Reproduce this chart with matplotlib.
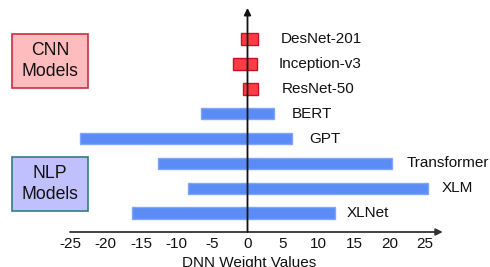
import matplotlib.pyplot as plt
from matplotlib.patches import Rectangle

# models listed top to bottom
models = ["DesNet-201", "Inception-v3", "ResNet-50", "BERT", "GPT",
          "Transformer", "XLM", "XLNet"]
w_min = [-0.9, -2.0, -0.7, -6.5, -23.6, -12.6, -8.4, -16.3]
w_max = [1.45, 1.35, 1.45, 3.7, 6.3, 20.4, 25.4, 12.3]
is_cnn = [True, True, True, False, False, False, False, False]
xticks = [-25, -20, -15, -10, -5, 0, 5, 10, 15, 20, 25]

plt.rcParams['font.family'] = ['Liberation Sans', 'DejaVu Sans']

fig = plt.figure(figsize=(4.9, 2.67), dpi=100)
ax = fig.add_axes([70 / 490, 35 / 267, 372.75 / 490, 224 / 267])
ax.set_xlim(-25, 27.5)
ax.set_ylim(7.76, -1.25)

pos = list(range(len(models)))
for i in pos:
    if is_cnn[i]:
        fc, ec = "#ff3c44", "#c8102a"
    else:
        fc, ec = "#5b8cf6", "#7fa6fb"
    ax.barh(i, w_max[i] - w_min[i], left=w_min[i], height=0.46,
            color=fc, edgecolor=ec, linewidth=1, zorder=2)

# label gap after bar end, in pixels
pads = [23, 22, 24, 18, 17, 14, 14, 12]
for i in pos:
    ax.annotate(models[i], (w_max[i], i), xytext=(pads[i] * 0.72, 0),
                textcoords="offset points", va="center", ha="left",
                fontsize=11, color="#111111")

for s in ax.spines.values():
    s.set_visible(False)
ax.set_yticks([])
ax.set_xticks(xticks)
ax.set_xticklabels([str(t) for t in xticks], fontsize=11, color="#111111")
ax.tick_params(axis="x", length=0, pad=3.5)

# axes drawn as arrows
ax.annotate("", xy=(1.0, 0.0), xytext=(0.0, 0.0), xycoords="axes fraction",
            arrowprops=dict(arrowstyle="-|>", color="#333333", lw=1.3,
                            mutation_scale=10, shrinkA=0, shrinkB=0))
ax.annotate("", xy=(0, -1.25), xytext=(0, 7.76),
            arrowprops=dict(arrowstyle="-|>", color="#111111", lw=1.3,
                            mutation_scale=10, shrinkA=0, shrinkB=0),
            zorder=3)

ax.set_xlabel("DNN Weight Values", fontsize=11, color="#111111")
ax.xaxis.set_label_coords(0.48, -0.107)
ax.xaxis.label.set_va("top")

# group boxes
for (y0, txt, fc, ec) in [(34, "CNN\nModels", "#ffbcbe", "#c8303f"),
                          (157, "NLP\nModels", "#c0c0ff", "#2f7f7f")]:
    fig.patches.append(Rectangle((12 / 490, 1 - (y0 + 54) / 267), 76 / 490, 54 / 267,
                                 transform=fig.transFigure, facecolor=fc,
                                 edgecolor=ec, linewidth=1.2))
    fig.text(50 / 490, 1 - (y0 + 27) / 267, txt, ha="center", va="center",
             fontsize=12.7, linespacing=1.25, color="#111111")

fig.savefig("out.png", dpi=100)
